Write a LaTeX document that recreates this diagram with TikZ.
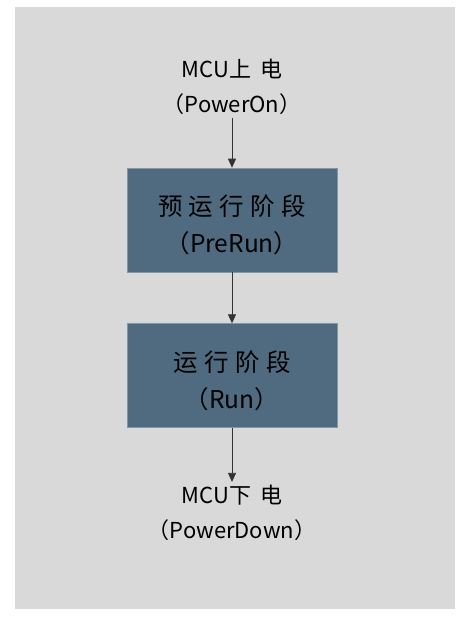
\documentclass[tikz,border=0pt]{standalone}
\usepackage{fontspec}
\newfontfamily\cjk{Noto Sans CJK SC}
\newfontfamily\cjkwide[LetterSpace=40]{Noto Sans CJK SC}
\newfontfamily\cjkbox[LetterSpace=26]{Noto Sans CJK SC}
\usetikzlibrary{arrows.meta,positioning}
\definecolor{bggray}{HTML}{D9D9D9}
\definecolor{slate}{HTML}{506A80}
\definecolor{slateedge}{HTML}{8296A6}
\definecolor{wire}{HTML}{333333}
\newcommand\topstrut{\rule{0pt}{31pt}}

\begin{document}
\begin{tikzpicture}[x=1pt,y=1pt,
 node distance=51pt,
 stage/.style={draw=slateedge,line width=0.6pt,fill=slate,minimum width=210pt,minimum height=104pt,align=center,inner sep=0pt,font=\cjk\fontsize{24.5}{37}\selectfont},
 event/.style={align=center,inner xsep=0.5pt,inner ysep=3pt,font=\cjk\fontsize{22}{35}\selectfont},
 arrow/.style={-{Triangle[length=9pt,width=8pt]},line width=0.8pt,draw=wire}
]
\useasboundingbox (0,0) rectangle (461,-621);
\fill[bggray] (15,-7) rectangle (455,-609);
\node[stage] (prerun) at (232,-220) {\topstrut{\cjkbox 预运行阶段}\\（PreRun）};
\node[stage,below=of prerun] (run) {\topstrut{\cjkbox 运行阶段}\\（Run）};
\node[event,above=50pt of prerun] (poweron) {MCU{\cjkwide 上电}\\（PowerOn）};
\node[event,below=54pt of run] (powerdown) {MCU{\cjkwide 下电}\\（PowerDown）};
\draw[arrow] (poweron)--(prerun);
\draw[arrow] (prerun)--(run);
\draw[arrow] (run)--(powerdown);
\end{tikzpicture}
\end{document}
